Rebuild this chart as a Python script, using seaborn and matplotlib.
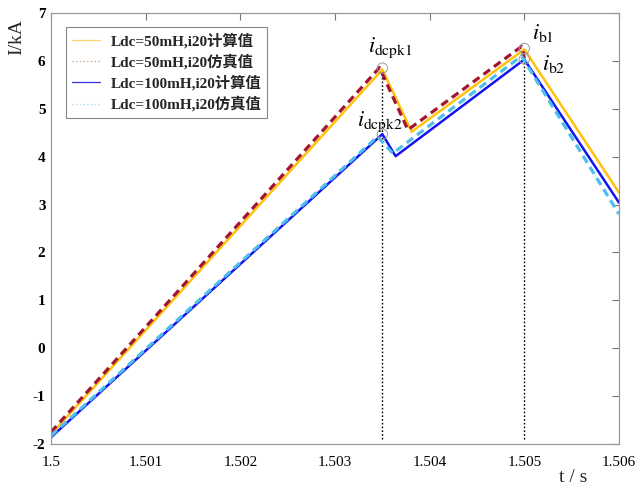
import numpy as np
import pandas as pd
import matplotlib
matplotlib.use("Agg")
import matplotlib.pyplot as plt
import seaborn as sns
from matplotlib.lines import Line2D

# ---- data ----
t_50_calc = [1.5, 1.5035, 1.50381, 1.505, 1.506]
i_50_calc = [-1.80, 5.82, 4.52, 6.24, 3.25]
t_50_sim = [1.5, 1.50347, 1.50377, 1.50497, 1.50500]
i_50_sim = [-1.75, 5.86, 4.56, 6.30, 6.05]
t_100_calc = [1.5, 1.5035, 1.50364, 1.505, 1.506]
i_100_calc = [-1.86, 4.47, 4.01, 6.03, 3.04]
t_100_sim = [1.5, 1.50345, 1.50361, 1.50497, 1.506]
i_100_sim = [-1.83, 4.42, 4.07, 6.10, 2.80]

peak_t = [1.5035, 1.5035, 1.505, 1.505]
peak_i = [5.85, 4.47, 6.26, 6.04]
vline_t = [1.5035, 1.505]
vline_top = [5.82, 6.24]
vline_bottom = -1.9

labels = ["Ldc=50mH,i20计算值", "Ldc=50mH,i20仿真值",
          "Ldc=100mH,i20计算值", "Ldc=100mH,i20仿真值"]
ann_text = [r"$i_{\mathrm{dcpk1}}$", r"$i_{\mathrm{dcpk2}}$", r"$i_{\mathrm{b1}}$", r"$i_{\mathrm{b2}}$"]
ann_t = [1.50358, 1.503474, 1.505195, 1.505311]
ann_i = [6.27, 4.72, 6.58, 5.93]

xticks = [1.5, 1.501, 1.502, 1.503, 1.504, 1.505, 1.506]
xticklabels = ["1.5", "1.501", "1.502", "1.503", "1.504", "1.505", "1.506"]
yticks = list(range(-2, 8))

# ---- style ----
sns.set_theme(style="white")
plt.rcParams["font.family"] = ["Liberation Serif", "Noto Sans CJK SC"]
plt.rcParams["mathtext.fontset"] = "stix"
plt.rcParams["lines.scale_dashes"] = False
plt.rcParams["axes.unicode_minus"] = False

c_yellow = "#FFC20E"
c_red = "#A2142F"
c_blue = "#1414F0"
c_lblue = "#4DBEEE"

fig = plt.figure(figsize=(6.44, 4.88), dpi=100)
ax = fig.add_axes([51/644, 1-444/488, (619-51)/644, (444-13)/488])

sns.lineplot(x=t_50_calc, y=i_50_calc, ax=ax, color=c_yellow, lw=1.8, sort=False, estimator=None)
sns.lineplot(x=t_50_sim, y=i_50_sim, ax=ax, color=c_red, lw=2.3, sort=False, estimator=None)
ax.lines[-1].set_dashes([5.8, 3.6])
sns.lineplot(x=t_100_calc, y=i_100_calc, ax=ax, color=c_blue, lw=1.8, sort=False, estimator=None)
sns.lineplot(x=t_100_sim, y=i_100_sim, ax=ax, color=c_lblue, lw=2.3, sort=False, estimator=None)
ax.lines[-1].set_dashes([5.8, 3.6])

for t, top in zip(vline_t, vline_top):
    ax.plot([t, t], [vline_bottom, top], color="black", lw=1.0, linestyle=(0, (1.2, 1.5)), zorder=1)

sns.scatterplot(x=peak_t, y=peak_i, ax=ax, s=55, facecolor="none", edgecolor="#9a9a9a", linewidth=0.7, zorder=5)

for s, t, v in zip(ann_text, ann_t, ann_i):
    ax.text(t, v, s, ha="center", va="center", fontsize=16, color="black")

ax.set_xlim(1.5, 1.506)
ax.set_ylim(-2, 7)
ax.set_xticks(xticks)
ax.set_xticklabels(xticklabels)
ax.set_yticks(yticks)
ax.tick_params(direction="in", length=5, width=0.8, color="#777777", labelsize=11,
               top=True, right=True, labelcolor="black")
ax.tick_params(axis="x", pad=9)
ax.tick_params(axis="y", pad=4)
for lab in ax.get_yticklabels():
    lab.set_fontweight("bold")
for sp in ax.spines.values():
    sp.set_color("#999999")
    sp.set_linewidth(0.9)

ax.set_ylabel("I/kA", fontsize=14)
ax.yaxis.set_label_coords(-0.046, 0.944)
ax.set_xlabel("t / s", fontsize=14)
ax.xaxis.set_label_coords(0.919, -0.058)

handles = [
    Line2D([], [], color="#F5D76E", lw=0.9),
    Line2D([], [], color="#C9A48A", lw=0.9, linestyle=":"),
    Line2D([], [], color="#3030E0", lw=0.9),
    Line2D([], [], color="#A8E0F5", lw=0.9, linestyle=":"),
]
leg = ax.legend(handles, labels, loc="upper left", bbox_to_anchor=(15/568, 1-14/431),
                borderaxespad=0, frameon=True, fancybox=False, framealpha=1,
                edgecolor="#888888", handlelength=1.8, handletextpad=0.7,
                labelspacing=0.35, borderpad=0.4,
                prop={"size": 11, "weight": "bold"})
leg.get_frame().set_linewidth(0.8)

fig.savefig("out.png", dpi=100)
